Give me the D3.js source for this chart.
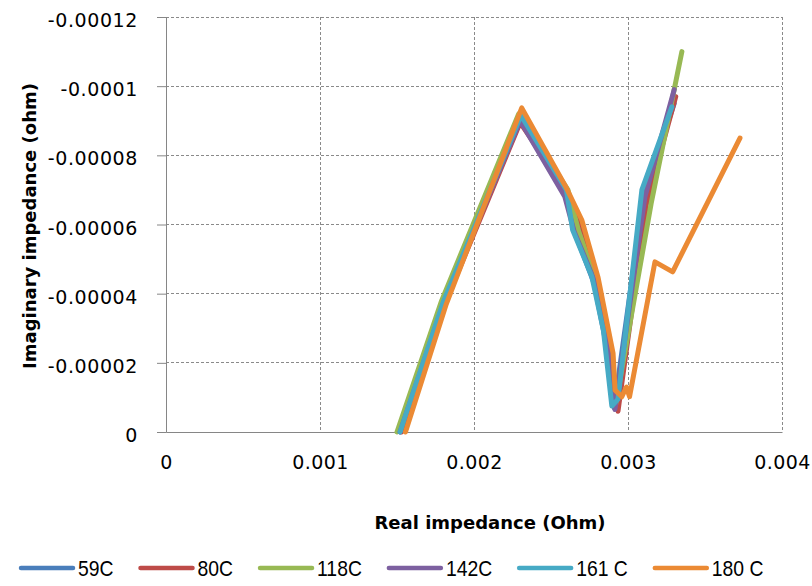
<!DOCTYPE html>
<html>
<head>
<meta charset="utf-8">
<script src="https://cdn.jsdelivr.net/npm/d3@7"></script>
<style>
  body { margin: 0; background: #fff; }
  svg { display: block; }
</style>
</head>
<body>
<div id="chart"></div>
<script>
// series names, drawn in this order (orange ends up on top)
var seriesNames = ["59C", "80C", "118C", "142C", "161 C", "180 C"];
var seriesColors = ["#4A7EBB", "#BE4B48", "#98B954", "#7D60A0", "#46AAC5", "#EB8A34"];

// real part (Ohm) for each series
var re59  = [0.00152, 0.00180, 0.00230, 0.00260, 0.00266, 0.00278, 0.00286, 0.00291, 0.00310, 0.00330];
var re80  = [0.00153, 0.00181, 0.00230, 0.00261, 0.00268, 0.00279, 0.00288, 0.002935, 0.00312, 0.00331];
var re118 = [0.00150, 0.00179, 0.00229, 0.00261, 0.00268, 0.00279, 0.00287, 0.00292, 0.00315, 0.00335];
var re142 = [0.00152, 0.00180, 0.00230, 0.00259, 0.00265, 0.00278, 0.00287, 0.002915, 0.00311, 0.00330];
var re161 = [0.00152, 0.00180, 0.002305, 0.00260, 0.00264, 0.002765, 0.00284, 0.002895, 0.002935, 0.00309, 0.003285];
var re180 = [0.001555, 0.00182, 0.00231, 0.002595, 0.00270, 0.002805, 0.002903, 0.002916, 0.00296, 0.00299, 0.00301, 0.003175, 0.00329, 0.003727];

// imaginary part (ohm), negative values
var im59  = [0, -0.000037, -0.000090, -0.000069, -0.000057, -0.000043, -0.000025, -0.000007, -0.000068, -0.000095];
var im80  = [0, -0.000037, -0.0000895, -0.000069, -0.000060, -0.000045, -0.000025, -0.000006, -0.000066, -0.000097];
var im118 = [0, -0.000038, -0.000092, -0.000070, -0.000058, -0.000044, -0.000026, -0.000008, -0.000066, -0.000110];
var im142 = [0, -0.000037, -0.000090, -0.000068, -0.000058, -0.000044, -0.000026, -0.0000065, -0.000068, -0.000099];
var im161 = [0, -0.0000375, -0.0000915, -0.000070, -0.0000585, -0.000045, -0.0000295, -0.0000075, -0.0000095, -0.000070, -0.000094];
var im180 = [0, -0.000037, -0.0000937, -0.000071, -0.0000613, -0.0000448, -0.0000228, -0.0000121, -0.0000102, -0.000013, -0.0000102, -0.0000492, -0.0000463, -0.000085];

var xTicks = [0, 0.001, 0.002, 0.003, 0.004];
var xTickLabels = ["0", "0.001", "0.002", "0.003", "0.004"];
var yTicks = [0, -0.00002, -0.00004, -0.00006, -0.00008, -0.0001, -0.00012];
var yTickLabels = ["0", "-0.00002", "-0.00004", "-0.00006", "-0.00008", "-0.0001", "-0.00012"];

var reAll = [re59, re80, re118, re142, re161, re180];
var imAll = [im59, im80, im118, im142, im161, im180];

var width = 812, height = 586;
var plot = {left: 166, right: 782, top: 17, bottom: 432};

var x = d3.scaleLinear().domain([0, 0.004]).range([plot.left, plot.right]);
var y = d3.scaleLinear().domain([0, -0.00012]).range([plot.bottom, plot.top]);

var svg = d3.select("#chart").append("svg")
  .attr("width", width)
  .attr("height", height);

// gridlines
svg.append("g").selectAll("line")
  .data(yTicks.filter(function(d) { return d !== 0; }))
  .enter().append("line")
    .attr("x1", plot.left).attr("x2", plot.right)
    .attr("y1", function(d) { return y(d); })
    .attr("y2", function(d) { return y(d); })
    .attr("stroke", "#8a8a8a")
    .attr("stroke-dasharray", "3,2")
    .attr("shape-rendering", "crispEdges");

svg.append("g").selectAll("line")
  .data(xTicks.filter(function(d) { return d !== 0; }))
  .enter().append("line")
    .attr("x1", function(d) { return x(d); })
    .attr("x2", function(d) { return x(d); })
    .attr("y1", plot.top).attr("y2", plot.bottom)
    .attr("stroke", "#8a8a8a")
    .attr("stroke-dasharray", "3,2")
    .attr("shape-rendering", "crispEdges");

// y axis
var yAxis = svg.append("g")
  .attr("transform", "translate(" + plot.left + ",0)")
  .call(d3.axisLeft(y).tickValues(yTicks).tickSize(9).tickPadding(19)
    .tickFormat(function(d, i) { return yTickLabels[i]; }));
yAxis.select(".domain").attr("stroke", "#868686");
yAxis.selectAll(".tick line").attr("stroke", "#868686");
yAxis.selectAll("text")
  .attr("font-family", "DejaVu Sans, sans-serif")
  .attr("font-size", 19)
  .attr("letter-spacing", 0.6)
  .attr("fill", "#000")
  .attr("dy", "0.5em");

// x axis
var xAxis = svg.append("g")
  .attr("transform", "translate(0," + plot.bottom + ")")
  .call(d3.axisBottom(x).tickValues(xTicks).tickSize(0).tickPadding(24)
    .tickFormat(function(d, i) { return xTickLabels[i]; }));
xAxis.select(".domain").attr("stroke", "#868686");
xAxis.selectAll("text")
  .attr("font-family", "DejaVu Sans, sans-serif")
  .attr("font-size", 19)
  .attr("letter-spacing", 0.4)
  .attr("fill", "#000");

// axis titles
svg.append("text")
  .attr("x", 490).attr("y", 529)
  .attr("text-anchor", "middle")
  .attr("font-family", "DejaVu Sans, sans-serif")
  .attr("font-weight", "bold")
  .attr("font-size", 18)
  .text("Real impedance (Ohm)");

svg.append("text")
  .attr("transform", "translate(36,226) rotate(-90)")
  .attr("text-anchor", "middle")
  .attr("font-family", "DejaVu Sans, sans-serif")
  .attr("font-weight", "bold")
  .attr("font-size", 18)
  .text("Imaginary impedance (ohm)");

// series lines
var line = d3.line()
  .x(function(d) { return x(d[0]); })
  .y(function(d) { return y(d[1]); });

seriesNames.forEach(function(name, i) {
  var pts = reAll[i].map(function(r, j) { return [r, imAll[i][j]]; });
  svg.append("path")
    .datum(pts)
    .attr("fill", "none")
    .attr("stroke", seriesColors[i])
    .attr("stroke-width", 5)
    .attr("stroke-linejoin", "round")
    .attr("stroke-linecap", "round")
    .attr("d", line);
});

// legend (text squeezed horizontally, the original uses a narrow face)
var squeeze = 0.88;
var legend = svg.append("g").attr("transform", "translate(21,568)");
var lx = 0;
seriesNames.forEach(function(name, i) {
  var g = legend.append("g").attr("transform", "translate(" + lx + ",0)");
  g.append("line")
    .attr("x1", 0).attr("x2", 52)
    .attr("stroke", seriesColors[i])
    .attr("stroke-width", 4.5)
    .attr("stroke-linecap", "round");
  var t = g.append("text")
    .attr("transform", "translate(57,0) scale(" + squeeze + ",1)")
    .attr("dy", "0.36em")
    .attr("font-family", "Liberation Sans, sans-serif")
    .attr("font-size", 22)
    .text(name);
  lx += 57 + t.node().getComputedTextLength() * squeeze + 27;
});
</script>
</body>
</html>
